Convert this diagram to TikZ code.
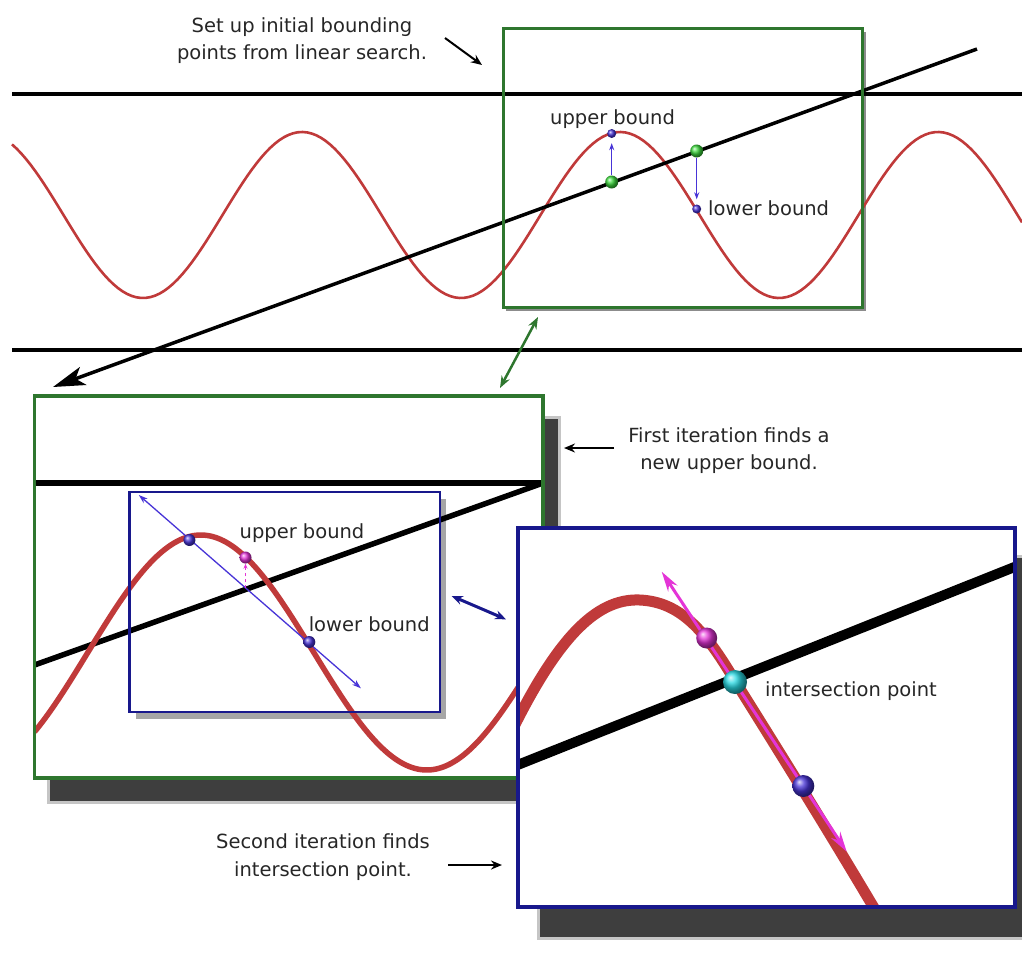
\documentclass[tikz,border=0pt]{standalone}
\usepackage{fontspec}
\setmainfont{DejaVu Sans}
\usepackage{xcolor}
\usetikzlibrary{arrows.meta}

\definecolor{curvered}{RGB}{192,58,58}
\definecolor{framegreen}{RGB}{46,118,46}
\definecolor{frameblue}{RGB}{24,24,140}
\definecolor{ptgreen}{RGB}{60,215,60}
\definecolor{ptblue}{RGB}{72,52,215}
\definecolor{ptpink}{RGB}{228,52,215}
\definecolor{ptcyan}{RGB}{40,218,228}
\definecolor{shadegray}{RGB}{62,62,62}

\tikzset{
  txt/.style={font=\fontsize{19.5}{27.5}\selectfont, text=black!85, inner sep=0pt, align=center},
  ballpt/.style={circle, inner sep=0pt, minimum size=#1},
  panel/.style={draw, inner sep=0pt, outer sep=0pt, anchor=north west},
  pointer/.style={line width=2pt, -{Stealth[length=11pt,width=9pt]}},
  dropbox/.style={fill=shadegray},
  halo/.style={fill=shadegray, opacity=0.3},
}

\begin{document}
\begin{tikzpicture}[x=1pt, y=-1pt]
  \useasboundingbox (0,0) rectangle (1022,953);

  % Top strip: two lines, curve and the search line
  \fill[black!45] (506,32) rectangle (866,311);
  \fill[white] (503,28) rectangle (862,307);
  \draw[line width=3.5pt] (12,94) -- (1022,94);
  \draw[line width=3.5pt] (12,350) -- (1022,350);
  \draw[curvered, line width=2.6pt] plot[domain=12:1022, samples=220] (\x, {215-83*cos((\x-620)/318*360)});
  \coordinate (s0) at (977,49);
  \coordinate (s1) at (53,387);
  \draw[line width=3.5pt, -{Stealth[length=32pt,width=19pt,inset=8pt]}] (s0) -- (s1);
  \node[panel, draw=framegreen, line width=3pt, minimum width=359pt, minimum height=279pt] (box1) at (503,28) {};

  % Initial bounding points
  \node[ballpt=13pt, ball color=ptgreen] (g1) at (611.7,182) {};
  \node[ballpt=13pt, ball color=ptgreen] (g2) at (696.7,151) {};
  \node[ballpt=9pt, ball color=ptblue] (ub1) at (611.7,133.5) {};
  \node[ballpt=9pt, ball color=ptblue] (lb1) at (696.7,209) {};
  \draw[ptblue, line width=1.3pt, -{Stealth[length=7pt,width=5pt]}, shorten >=5pt] (g1) -- (ub1);
  \draw[ptblue, line width=1.3pt, -{Stealth[length=7pt,width=5pt]}, shorten >=5pt] (g2) -- (lb1);
  \node[txt, anchor=base] (ubl1) at (612.5,124) {upper bound};
  \node[txt, anchor=base west] (lbl1) at (708,215) {lower bound};

  \node[txt, anchor=north] (setup) at (302,17) {Set up initial bounding\\points from linear search.};
  \coordinate (p0) at (445,38);
  \coordinate (p1) at (482,65);
  \draw[pointer] (p0) -- (p1);

  \coordinate (z0) at (538,317);
  \coordinate (z1) at (500,388);
  \draw[framegreen, line width=2.5pt, {Stealth[length=12pt,width=9pt]}-{Stealth[length=12pt,width=9pt]}] (z0) -- (z1);

  % First zoom
  \fill[halo] (46.5,416) rectangle (561,804);
  \fill[dropbox] (49.5,419) rectangle (558,801);
  \fill[white] (34.5,396) rectangle (543,778);
  \fill[black!35] (135.5,499) rectangle (446,719);
  \fill[white] (129.5,492) rectangle (440,712);
  \begin{scope}
    \clip (34.5,396) rectangle (543,778);
    \draw[line width=5.5pt] (34.5,483) -- (543,483);
    \draw[line width=5.5pt] (34.5,665) -- (543,483);
    \draw[curvered, line width=5.5pt] plot[domain=34.5:543, samples=200] (\x, {652.5-117.5*cos((\x-200.8)/452*360)});
  \end{scope}
  \node[panel, draw=frameblue, line width=2.5pt, minimum width=310.5pt, minimum height=220pt] (box2s) at (129.5,492) {};
  \coordinate (c0) at (138.8,495);
  \coordinate (c1) at (360.9,688.3);
  \draw[ptblue, line width=1.3pt, {Stealth[length=9pt,width=6pt]}-{Stealth[length=9pt,width=6pt]}] (c0) -- (c1);
  \node[ballpt=12pt, ball color=ptblue] (b1) at (189.4,540) {};
  \node[ballpt=12pt, ball color=ptblue] (b2) at (309.3,642) {};
  \node[ballpt=12pt, ball color=ptpink] (m1) at (245.5,557.5) {};
  \coordinate (m0) at (245.5,588);
  \draw[ptpink, line width=1.2pt, dashed, -{Stealth[length=5pt,width=4pt]}] (m0) -- (m1);
  \node[txt, anchor=base] (ubl2) at (302,538) {upper bound};
  \node[txt, anchor=base west] (lbl2) at (308.6,631.7) {lower bound};
  \node[panel, draw=framegreen, line width=3.5pt, minimum width=508.5pt, minimum height=382pt] (box2) at (34.5,396) {};

  \coordinate (w0) at (451.7,596);
  \coordinate (w1) at (506,619.3);
  \draw[frameblue, line width=3pt, {Stealth[length=11pt,width=9pt]}-{Stealth[length=11pt,width=9pt]}] (w0) -- (w1);

  \node[txt, anchor=north] (first) at (729,427) {First iteration finds a\\new upper bound.};
  \coordinate (f0) at (614,448);
  \coordinate (f1) at (564,448);
  \draw[pointer] (f0) -- (f1);

  % Second zoom
  \fill[halo] (537,555) rectangle (1043,940);
  \fill[dropbox] (540,558) rectangle (1040,937);
  \fill[white] (518,528) rectangle (1015,907);
  \begin{scope}
    \clip (518,528) rectangle (1015,907);
    \draw[line width=10pt] (510,768) -- (1022,564);
    \draw[curvered, line width=11pt] (505,745) .. controls (555,640) and (595,598) .. (640,600)
      .. controls (680,602) and (705,630) .. (735,681)
      .. controls (775,745) and (825,825) .. (880,918);
    \coordinate (n0) at (661.7,571.7);
    \coordinate (n1) at (846.7,851.7);
    \draw[ptpink, line width=3pt, {Stealth[length=20pt,width=11pt]}-{Stealth[length=20pt,width=11pt]}] (n0) -- (n1);
    \node[ballpt=21pt, ball color=ptpink] (m2) at (706.7,638) {};
    \node[ballpt=24pt, ball color=ptcyan] (x0) at (735,682) {};
    \node[ballpt=22pt, ball color=ptblue] (b3) at (803.3,786) {};
  \end{scope}
  \node[panel, draw=frameblue, line width=3.5pt, minimum width=497pt, minimum height=379pt] (box3) at (518,528) {};
  \node[txt, anchor=base west] (isect) at (765,696.7) {intersection point};

  \node[txt, anchor=north] (second) at (323,833.5) {Second iteration finds\\intersection point.};
  \coordinate (q0) at (448,865);
  \coordinate (q1) at (502,865);
  \draw[pointer] (q0) -- (q1);
\end{tikzpicture}
\end{document}
